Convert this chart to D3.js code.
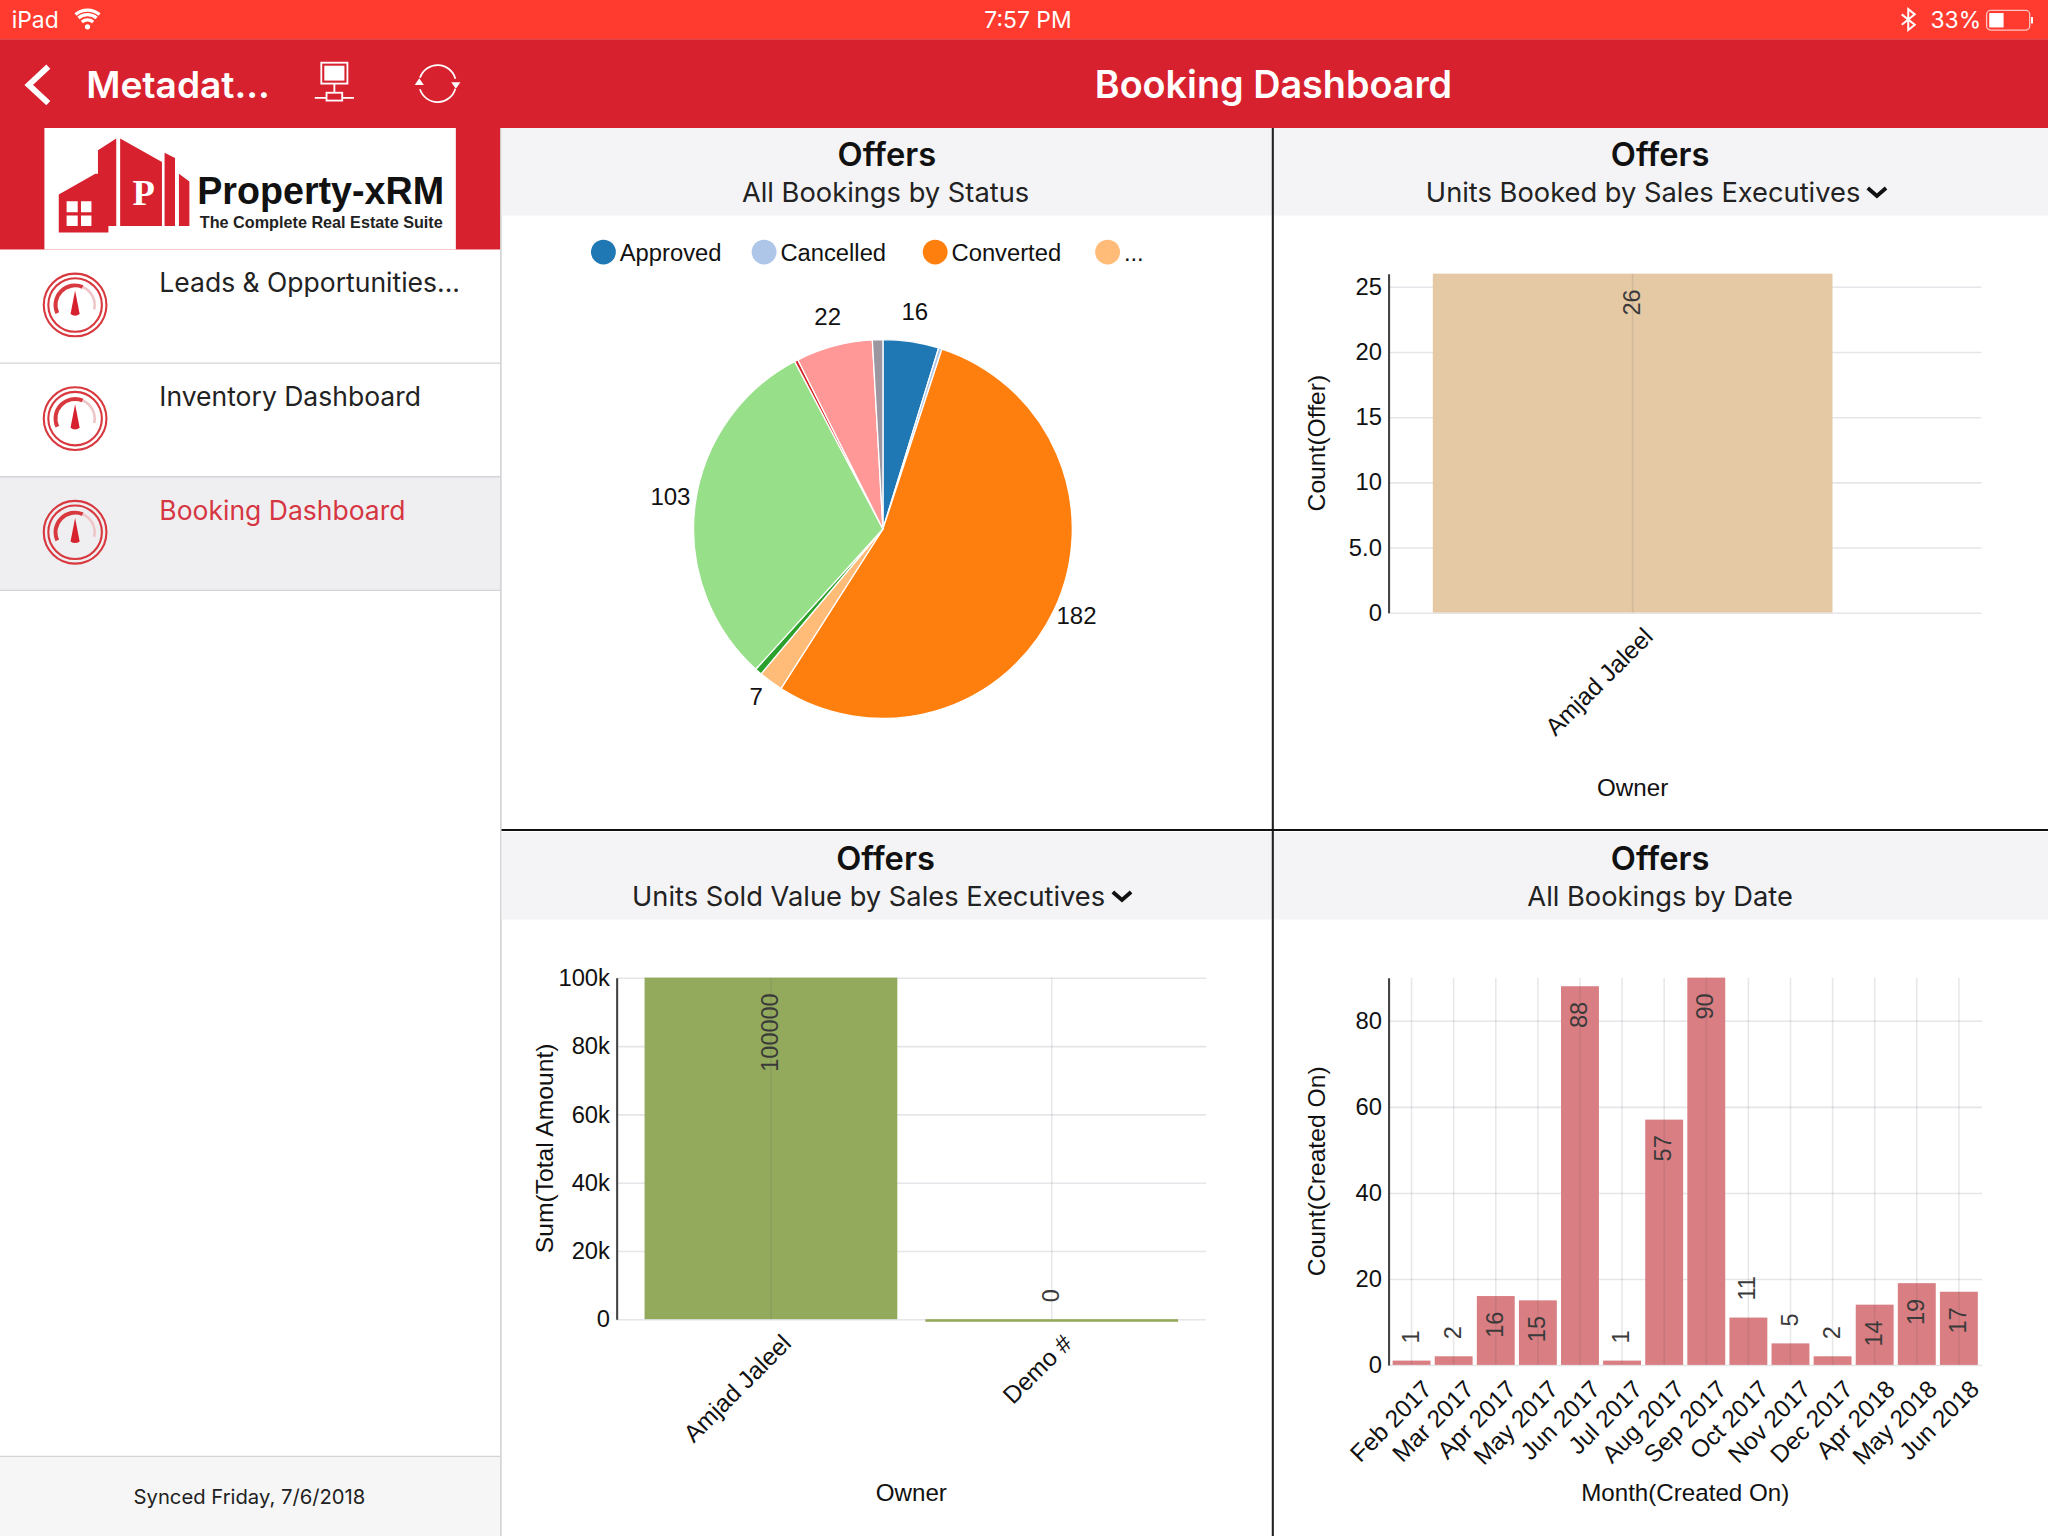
<!DOCTYPE html>
<html>
<head>
<meta charset="utf-8">
<title>Booking Dashboard</title>
<script src="https://cdnjs.cloudflare.com/ajax/libs/d3/7.8.5/d3.min.js"></script>
<style>
  html, body { margin: 0; padding: 0; background: #fff; }
  svg { display: block; }
  .ui { font-family: Inter, "Noto Sans", sans-serif; }
  .plot text { font-family: "Liberation Sans", Arial, sans-serif; }
</style>
</head>
<body>
<div id="main"></div>
<script>
// dados
const statusNames = ["Approved", "Cancelled", "Converted", "Pending", "Rejected", "Accepted", "Lost", "Open", "Closed"];
const statusValues = [16, 1, 182, 7, 2, 103, 1, 22, 3];
const statusColors = ["#1f77b4", "#aec7e8", "#ff7f0e", "#ffbb78", "#2ca02c", "#98df8a", "#d62728", "#ff9896", "#9b96a0"];
const legendNames = ["Approved", "Cancelled", "Converted", "..."];
const legendColors = ["#1f77b4", "#aec7e8", "#ff7f0e", "#ffbb78"];

const bookedOwners = ["Amjad Jaleel"];
const bookedValues = [26];
const bookedTicks = [0, 5, 10, 15, 20, 25];
const bookedTickLabels = ["0", "5.0", "10", "15", "20", "25"];

const soldOwners = ["Amjad Jaleel", "Demo #"];
const soldValues = [100000, 0];
const soldTicks = [0, 20000, 40000, 60000, 80000, 100000];
const soldTickLabels = ["0", "20k", "40k", "60k", "80k", "100k"];

const months = ["Feb 2017", "Mar 2017", "Apr 2017", "May 2017", "Jun 2017", "Jul 2017", "Aug 2017",
  "Sep 2017", "Oct 2017", "Nov 2017", "Dec 2017", "Apr 2018", "May 2018", "Jun 2018"];
const monthValues = [1, 2, 16, 15, 88, 1, 57, 90, 11, 5, 2, 14, 19, 17];
const monthTicks = [0, 20, 40, 60, 80];
const monthTickLabels = ["0", "20", "40", "60", "80"];

const menuItems = ["Leads & Opportunities...", "Inventory Dashboard", "Booking Dashboard"];

// tudo desenhado em 1568x1176 e escalado para a janela
const svg = d3.select("#main").append("svg")
  .attr("width", 2048)
  .attr("height", 1536)
  .attr("viewBox", "0 0 1568 1176");

const RED = "#d8212f";

function uiText(parent, x, y, str, size, opts = {}) {
  return parent.append("text")
    .attr("class", "ui")
    .attr("x", x)
    .attr("y", y)
    .attr("dominant-baseline", "central")
    .attr("text-anchor", opts.anchor || "start")
    .attr("font-size", size)
    .attr("font-weight", opts.weight || 400)
    .attr("fill", opts.fill || "#111")
    .text(str);
}

function drawChrome() {
  svg.append("rect").attr("width", 1568).attr("height", 1176).attr("fill", "#fff");
  svg.append("rect").attr("width", 1568).attr("height", 30).attr("fill", "#ff3b30");
  svg.append("rect").attr("y", 30).attr("width", 1568).attr("height", 68).attr("fill", RED);

  uiText(svg, 9, 15, "iPad", 17.5, { fill: "#fff" });
  uiText(svg, 787, 15, "7:57 PM", 17.5, { fill: "#fff", anchor: "middle" });
  uiText(svg, 1478, 15, "33%", 17.5, { fill: "#fff" });

  // wifi
  const wifi = d3.arc().startAngle(-0.7).endAngle(0.7);
  [[5.5, 8], [9.5, 12], [13, 15.5]].forEach(([a, b]) => {
    svg.append("path")
      .attr("transform", "translate(67,22)")
      .attr("d", wifi({ innerRadius: a, outerRadius: b }))
      .attr("fill", "#fff");
  });
  svg.append("circle").attr("cx", 67).attr("cy", 20.5).attr("r", 2).attr("fill", "#fff");

  // bluetooth
  svg.append("path")
    .attr("d", "M1456,11 L1466,19 L1461,23 L1461,7 L1466,11 L1456,19")
    .attr("fill", "none").attr("stroke", "#fff").attr("stroke-width", 1.5);

  // bateria
  svg.append("rect").attr("x", 1521).attr("y", 8).attr("width", 33).attr("height", 15).attr("rx", 3)
    .attr("fill", "none").attr("stroke", "#fff").attr("stroke-opacity", 0.7);
  svg.append("rect").attr("x", 1523).attr("y", 10).attr("width", 11).attr("height", 11).attr("fill", "#fff");
  svg.append("rect").attr("x", 1555).attr("y", 13).attr("width", 1.5).attr("height", 5).attr("fill", "#fff");

  // barra de navegacao
  svg.append("path").attr("d", "M37,51 L22,65 L37,79")
    .attr("fill", "none").attr("stroke", "#fff").attr("stroke-width", 4.5);
  uiText(svg, 66, 64.5, "Metadat...", 28.4, { fill: "#fff", weight: 600 });
  uiText(svg, 975, 64.5, "Booking Dashboard", 28.9, { fill: "#fff", weight: 600, anchor: "middle" });

  const net = svg.append("g").attr("fill", "none").attr("stroke", "#fff").attr("stroke-width", 1.4);
  net.append("rect").attr("x", 246).attr("y", 48).attr("width", 20).attr("height", 16);
  net.append("rect").attr("x", 249).attr("y", 51).attr("width", 14).attr("height", 10).attr("fill", "#fff");
  net.append("path").attr("d", "M256,64 V71 M241,75 H271");
  net.append("rect").attr("x", 250).attr("y", 71).attr("width", 12).attr("height", 6).attr("fill", RED);

  const sync = d3.arc().innerRadius(13.5).outerRadius(14.8);
  [[-1.25, 1.3], [1.85, 4.4]].forEach(([a, b]) => {
    svg.append("path").attr("transform", "translate(335,64)")
      .attr("d", sync({ startAngle: a, endAngle: b })).attr("fill", "#fff");
  });
  svg.append("path").attr("d", "M345.5,63 H352.5 L349,68 Z M317.5,65 H324.5 L321,60 Z").attr("fill", "#fff");
}

function gauge(cy) {
  const g = svg.append("g").attr("transform", `translate(57.5,${cy})`);
  g.append("circle").attr("r", 24).attr("fill", "none").attr("stroke", "#d8393f").attr("stroke-width", 1.6);
  g.append("circle").attr("r", 20.5).attr("fill", "none").attr("stroke", "#d8393f").attr("stroke-width", 1.6);
  g.append("path")
    .attr("d", d3.arc().innerRadius(13.5).outerRadius(16.5).startAngle(-2).endAngle(0.4)())
    .attr("fill", "#d8393f");
  g.append("path")
    .attr("d", d3.arc().innerRadius(14).outerRadius(16).startAngle(0.4).endAngle(1.8)())
    .attr("fill", "#efc6c8");
  g.append("path").attr("d", "M0,-11 L3.5,7 Q0,9.5 -3.5,7 Z").attr("fill", RED);
}

function drawSidebar() {
  svg.append("rect").attr("y", 98).attr("width", 383).attr("height", 93).attr("fill", RED);
  svg.append("rect").attr("x", 34).attr("y", 98).attr("width", 315).attr("height", 93).attr("fill", "#fff");

  // logo
  svg.append("path").attr("fill", RED)
    .attr("d", "M45,149 L73,133 L75,133 L75,115 L89,106 L89,173 L83,173 L83,178 L45,178 Z M92,106 L124,124 L124,173 L92,173 Z M126,117 L134,121 L134,173 L126,173 Z M137,133 L145,139 L145,173 L137,173 Z");
  svg.append("path").attr("fill", "#fff")
    .attr("d", "M51,154 H59.5 V162.5 H51 Z M62,154 H70 V162.5 H62 Z M51,165 H59.5 V173 H51 Z M62,165 H70 V173 H62 Z");
  svg.append("text").attr("x", 110).attr("y", 147).attr("dominant-baseline", "central").attr("text-anchor", "middle")
    .attr("font-family", "'Liberation Serif', serif").attr("font-weight", 700).attr("font-size", 28)
    .attr("fill", "#fff").text("P");
  svg.append("text").attr("x", 151).attr("y", 146).attr("dominant-baseline", "central")
    .attr("font-family", "'Liberation Sans', Arial, sans-serif").attr("font-weight", 700).attr("font-size", 30)
    .attr("textLength", 189).attr("lengthAdjust", "spacingAndGlyphs").attr("fill", "#111").text("Property-xRM");
  svg.append("text").attr("x", 153).attr("y", 170).attr("dominant-baseline", "central")
    .attr("font-family", "'Liberation Sans', Arial, sans-serif").attr("font-weight", 700).attr("font-size", 13)
    .attr("textLength", 186).attr("lengthAdjust", "spacingAndGlyphs").attr("fill", "#222").text("The Complete Real Estate Suite");

  svg.append("rect").attr("y", 365).attr("width", 383).attr("height", 87).attr("fill", "#efeff2");
  [278, 365, 452].forEach(y => {
    svg.append("line").attr("x1", 0).attr("x2", 383).attr("y1", y).attr("y2", y)
      .attr("stroke", "#d4d4d8").attr("stroke-width", 1);
  });

  menuItems.forEach((name, i) => {
    uiText(svg, 122, 215.7 + i * 87.3, name, 20.3, { fill: i === 2 ? "#d63641" : "#222" });
    gauge(233.5 + i * 87);
  });

  svg.append("rect").attr("y", 1115).attr("width", 383).attr("height", 61).attr("fill", "#f6f6f7");
  svg.append("line").attr("x1", 0).attr("x2", 383).attr("y1", 1115).attr("y2", 1115).attr("stroke", "#d4d4d8");
  uiText(svg, 191, 1146, "Synced Friday, 7/6/2018", 15.5, { anchor: "middle", fill: "#222" });
  svg.append("line").attr("x1", 383.5).attr("x2", 383.5).attr("y1", 98).attr("y2", 1176).attr("stroke", "#c8c8cc");
}

function panelHeader(x1, x2, top, title, subtitle, cx, subCx, chevronX) {
  svg.append("rect").attr("x", x1).attr("y", top).attr("width", x2 - x1).attr("height", 67).attr("fill", "#f4f4f6");
  uiText(svg, cx, top + 20, title, 25, { weight: 600, anchor: "middle", fill: "#111" });
  uiText(svg, subCx, top + 49, subtitle, 20.9, { anchor: "middle", fill: "#222" });
  if (chevronX) {
    svg.append("path")
      .attr("d", `M${chevronX},${top + 46} L${chevronX + 7},${top + 52} L${chevronX + 14},${top + 46}`)
      .attr("fill", "none").attr("stroke", "#111").attr("stroke-width", 3);
  }
}

function drawPie() {
  const cx = 676, cy = 405, r = 145;
  const g = svg.append("g").attr("class", "plot");

  const pie = d3.pie().sort(null).value(d => d.value);
  const arc = d3.arc().innerRadius(0).outerRadius(r);
  const labelArc = d3.arc().innerRadius(164).outerRadius(164);
  const slices = pie(statusValues.map((value, i) => ({ value, name: statusNames[i], color: statusColors[i] })));

  const plot = g.append("g").attr("transform", `translate(${cx},${cy})`);
  plot.selectAll("path")
    .data(slices)
    .join("path")
    .attr("d", arc)
    .attr("fill", d => d.data.color)
    .attr("stroke", "#fff")
    .attr("stroke-width", 1);

  plot.selectAll("text")
    .data(slices.filter(d => d.data.value >= 5))
    .join("text")
    .attr("transform", d => {
      const [lx, ly] = labelArc.centroid(d);
      return `translate(${lx},${ly - 4})`;
    })
    .attr("text-anchor", "middle")
    .attr("dominant-baseline", "central")
    .attr("font-size", 18.4)
    .attr("fill", "#111")
    .text(d => d.data.value);

  const legendX = d3.scaleOrdinal().domain(legendNames).range([462, 585, 716, 848]);
  const items = g.selectAll("g.legend")
    .data(legendNames)
    .join("g")
    .attr("class", "legend")
    .attr("transform", d => `translate(${legendX(d)},193)`);
  items.append("circle").attr("r", 9.5).attr("fill", (d, i) => legendColors[i]);
  items.append("text")
    .attr("x", 12.5)
    .attr("dominant-baseline", "central")
    .attr("font-size", 18.2)
    .attr("fill", "#111")
    .text(d => d);
}

function drawBars(cfg) {
  const g = svg.append("g").attr("class", "plot");
  const x = d3.scaleBand().domain(cfg.names).range([cfg.left, cfg.right]).padding(0.1);
  const y = d3.scaleLinear().domain(cfg.domain).range([cfg.bottom, cfg.top]);

  // grelha horizontal fica por baixo das barras
  g.append("g")
    .attr("transform", `translate(${cfg.left},0)`)
    .call(d3.axisLeft(y).tickValues(cfg.ticks).tickSize(-(cfg.gridEnd - cfg.left)).tickFormat(""))
    .call(a => a.select(".domain").remove())
    .selectAll("line").attr("stroke", "#e6e6ea").attr("stroke-width", 1.2);

  g.selectAll("rect.bar")
    .data(cfg.names)
    .join("rect")
    .attr("class", "bar")
    .attr("x", d => x(d))
    .attr("width", x.bandwidth())
    .attr("y", (d, i) => y(cfg.values[i]))
    .attr("height", (d, i) => Math.max(cfg.bottom - y(cfg.values[i]), 2))
    .attr("fill", cfg.color);

  // grelha vertical passa por cima das barras
  g.append("g")
    .attr("transform", `translate(0,${cfg.bottom})`)
    .call(d3.axisBottom(x).tickSize(-(cfg.bottom - cfg.top)).tickFormat(""))
    .call(a => a.select(".domain").remove())
    .selectAll("line").attr("stroke", "#50505a").attr("stroke-opacity", 0.13).attr("stroke-width", 1.2);

  // eixo Y
  const yAxis = g.append("g")
    .attr("transform", `translate(${cfg.left},0)`)
    .call(d3.axisLeft(y).tickValues(cfg.ticks).tickSize(0).tickPadding(5)
      .tickFormat((d, i) => cfg.tickLabels[i]));
  yAxis.select(".domain").attr("stroke", "#444").attr("stroke-width", 1.6);
  yAxis.selectAll("text").attr("font-size", 18.2).attr("font-family", "Liberation Sans").attr("fill", "#111");

  // eixo X
  const xAxis = g.append("g")
    .attr("transform", `translate(0,${cfg.bottom})`)
    .call(d3.axisBottom(x).tickSize(0).tickPadding(0));
  xAxis.select(".domain").remove();
  xAxis.selectAll("text")
    .attr("font-size", 18.7)
    .attr("font-family", "Liberation Sans")
    .attr("fill", "#111")
    .attr("text-anchor", "end")
    .attr("dy", "0.35em")
    .attr("y", 0)
    .attr("transform", "translate(12,15) rotate(-45)");

  // valores nas barras
  g.selectAll("text.value")
    .data(cfg.names)
    .join("text")
    .attr("class", "value")
    .attr("transform", (d, i) => {
      const inside = cfg.bottom - y(cfg.values[i]) >= 40;
      const ty = inside ? y(cfg.values[i]) + 12 : y(cfg.values[i]) - 13;
      return `translate(${x(d) + x.bandwidth() / 2 - 0.7},${ty}) rotate(-90)`;
    })
    .attr("text-anchor", (d, i) => (cfg.bottom - y(cfg.values[i]) >= 40 ? "end" : "start"))
    .attr("dominant-baseline", "central")
    .attr("font-size", 18)
    .attr("fill", "#3a3a3a")
    .text((d, i) => cfg.values[i]);

  // titulos dos eixos
  g.append("text")
    .attr("x", (cfg.left + cfg.right) / 2)
    .attr("y", cfg.xTitleY)
    .attr("text-anchor", "middle")
    .attr("dominant-baseline", "central")
    .attr("font-size", 18.5)
    .attr("fill", "#111")
    .text(cfg.xTitle);
  g.append("text")
    .attr("transform", `translate(${cfg.yTitleX},${(cfg.top + cfg.bottom) / 2}) rotate(-90)`)
    .attr("text-anchor", "middle")
    .attr("dominant-baseline", "central")
    .attr("font-size", 18.9)
    .attr("fill", "#111")
    .text(cfg.yTitle);
}

function main() {
  drawChrome();
  drawSidebar();

  panelHeader(384, 974, 98, "Offers", "All Bookings by Status", 679, 678);
  panelHeader(975, 1568, 98, "Offers", "Units Booked by Sales Executives", 1271, 1258, 1430);
  panelHeader(384, 974, 637, "Offers", "Units Sold Value by Sales Executives", 678, 665, 852);
  panelHeader(975, 1568, 637, "Offers", "All Bookings by Date", 1271, 1271);

  drawPie();

  drawBars({
    names: bookedOwners, values: bookedValues, domain: [0, 26],
    ticks: bookedTicks, tickLabels: bookedTickLabels, color: "#e5c9a4",
    left: 1063, right: 1437, gridEnd: 1517, top: 209.5, bottom: 469,
    xTitle: "Owner", yTitle: "Count(Offer)", xTitleY: 603, yTitleX: 1008
  });
  drawBars({
    names: soldOwners, values: soldValues, domain: [0, 100000],
    ticks: soldTicks, tickLabels: soldTickLabels, color: "#93aa5c",
    left: 472, right: 923.5, gridEnd: 923.5, top: 748.5, bottom: 1010,
    xTitle: "Owner", yTitle: "Sum(Total Amount)", xTitleY: 1143, yTitleX: 417
  });
  drawBars({
    names: months, values: monthValues, domain: [0, 90],
    ticks: monthTicks, tickLabels: monthTickLabels, color: "#d97e82",
    left: 1063, right: 1517.5, gridEnd: 1517.5, top: 748.5, bottom: 1045,
    xTitle: "Month(Created On)", yTitle: "Count(Created On)", xTitleY: 1143, yTitleX: 1008
  });

  // divisores pretos entre os paineis
  svg.append("line").attr("x1", 974.5).attr("x2", 974.5).attr("y1", 98).attr("y2", 1176)
    .attr("stroke", "#222").attr("stroke-width", 1.6);
  svg.append("line").attr("x1", 384).attr("x2", 1568).attr("y1", 635.5).attr("y2", 635.5)
    .attr("stroke", "#111").attr("stroke-width", 1.6);
}

main();
</script>
</body>
</html>
